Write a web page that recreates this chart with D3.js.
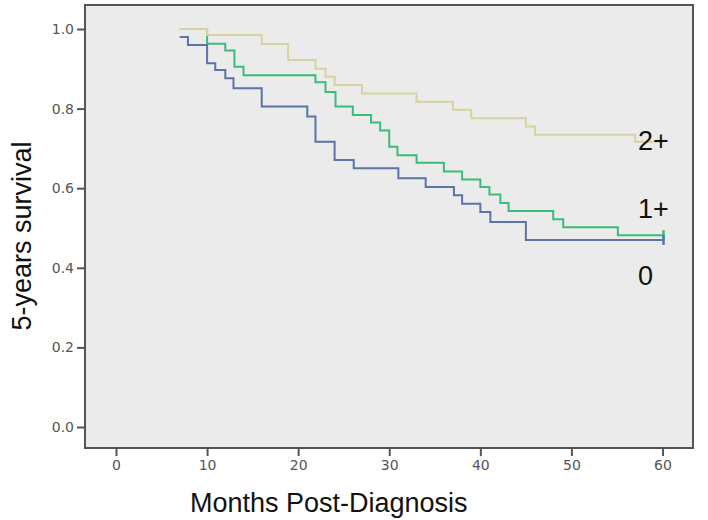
<!DOCTYPE html>
<html>
<head>
<meta charset="utf-8">
<script src="https://cdn.jsdelivr.net/npm/d3@7"></script>
<style>
  body { margin: 0; background: #fff; }
  svg { display: block; }
</style>
</head>
<body>
<svg id="chart" width="708" height="520"></svg>
<script>
// Kaplan-Meier steps (months, survival)
const timeZero = [7, 7.9, 10, 10.9, 12, 12.9, 16, 21, 21.9, 24, 26.1, 31, 34, 37.1, 38, 40, 41.1, 45, 60]
const survZero = [0.98, 0.96, 0.914, 0.897, 0.876, 0.851, 0.805, 0.78, 0.717, 0.671, 0.65, 0.625, 0.603, 0.582, 0.561, 0.54, 0.515, 0.47, 0.47]

const timeOne = [7, 10, 12, 13, 14, 21.9, 23, 24.1, 26, 28, 29, 30, 30.9, 33, 36, 38, 40, 41, 42.2, 43.1, 48, 49.1, 55.1, 60]
const survOne = [1.0, 0.963, 0.946, 0.905, 0.884, 0.866, 0.842, 0.805, 0.784, 0.765, 0.745, 0.704, 0.683, 0.664, 0.642, 0.622, 0.603, 0.584, 0.563, 0.543, 0.522, 0.502, 0.482, 0.482]

const timeTwo = [7, 10, 16, 18.9, 21.9, 23, 24, 27, 33, 37, 39, 45, 46, 57, 60]
const survTwo = [1.0, 0.985, 0.962, 0.922, 0.9, 0.88, 0.859, 0.838, 0.817, 0.797, 0.776, 0.755, 0.734, 0.717, 0.717]

const xTicks = [0, 10, 20, 30, 40, 50, 60]
const yTicks = [0, 0.2, 0.4, 0.6, 0.8, 1.0]

const series = [
  { name: '1+', time: timeOne, surv: survOne, color: '#3dbb7c', censor: true },
  { name: '0', time: timeZero, surv: survZero, color: '#5a74a8', censor: true },
  { name: '2+', time: timeTwo, surv: survTwo, color: '#d8d1a2', censor: false },
]

const svg = d3.select('#chart')

const x = d3.scaleLinear().domain([0, 60]).range([116, 662.5])
const y = d3.scaleLinear().domain([0, 1]).range([427, 29])

const frame = { left: 85, top: 5, right: 693, bottom: 448 }

svg.append('rect')
  .attr('x', frame.left)
  .attr('y', frame.top)
  .attr('width', frame.right - frame.left)
  .attr('height', frame.bottom - frame.top)
  .attr('fill', '#ebebeb')

const line = d3.line()
  .curve(d3.curveStepAfter)
  .x((d) => x(d[0]))
  .y((d) => y(d[1]))

const g = svg.append('g')
series.forEach((s) => {
  const pts = s.time.map((t, i) => [t, s.surv[i]])
  g.append('path')
    .attr('d', line(pts))
    .attr('fill', 'none')
    .attr('stroke', s.color)
    .attr('stroke-width', 2)
  if (s.censor) {
    const last = pts[pts.length - 1]
    g.append('line')
      .attr('x1', x(last[0]) + 1).attr('x2', x(last[0]) + 1)
      .attr('y1', y(last[1]) - 5).attr('y2', y(last[1]) + 5)
      .attr('stroke', s.color)
      .attr('stroke-width', 2.5)
  }
})

// frame on top
svg.append('rect')
  .attr('x', frame.left)
  .attr('y', frame.top)
  .attr('width', frame.right - frame.left)
  .attr('height', frame.bottom - frame.top)
  .attr('fill', 'none')
  .attr('stroke', '#555')
  .attr('stroke-width', 2)

const yAxis = svg.append('g')
  .attr('transform', `translate(${frame.left},0)`)
  .call(d3.axisLeft(y).tickValues(yTicks).tickFormat(d3.format('.1f')).tickSize(8).tickPadding(3))
const xAxis = svg.append('g')
  .attr('transform', `translate(0,${frame.bottom})`)
  .call(d3.axisBottom(x).tickValues(xTicks).tickSize(8).tickPadding(4))

;[yAxis, xAxis].forEach((a) => {
  a.select('.domain').remove()
  a.selectAll('.tick line').attr('stroke', '#555').attr('stroke-width', 2)
  a.selectAll('.tick text')
    .attr('fill', '#555')
    .attr('font-family', 'DejaVu Sans, sans-serif')
    .attr('font-size', 14)
})

// curve labels
const labels = [
  { text: '2+', v: 0.696 },
  { text: '1+', v: 0.525 },
  { text: '0', v: 0.357 },
]
svg.append('g')
  .selectAll('text')
  .data(labels)
  .join('text')
  .attr('x', x(57.3))
  .attr('y', (d) => y(d.v))
  .attr('font-family', 'Liberation Sans, Arial, sans-serif')
  .attr('font-size', 27)
  .attr('fill', '#111')
  .text((d) => d.text)

svg.append('text')
  .attr('x', 190)
  .attr('y', 512)
  .attr('font-family', 'Liberation Sans, Arial, sans-serif')
  .attr('font-size', 27)
  .attr('fill', '#111')
  .text('Months Post-Diagnosis')

svg.append('text')
  .attr('transform', 'translate(31,236) rotate(-90)')
  .attr('text-anchor', 'middle')
  .attr('font-family', 'Liberation Sans, Arial, sans-serif')
  .attr('font-size', 27)
  .attr('fill', '#111')
  .text('5-years survival')
</script>
</body>
</html>
